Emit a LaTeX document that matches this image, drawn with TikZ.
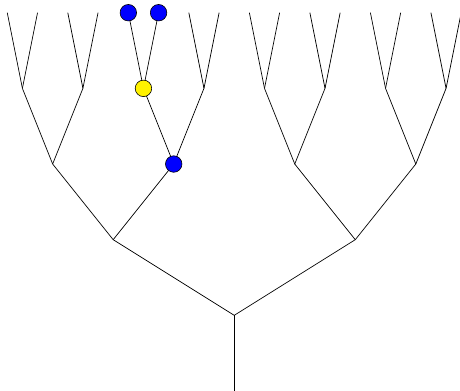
\documentclass[tikz,border=0pt]{standalone}
\usepackage{xcolor}
\usepackage{tikz}

\tikzset{
  dot/.style={circle, draw, line width=0.6pt, inner sep=0pt, minimum size=16.5pt},
}

\begin{document}
\begin{tikzpicture}[x=30.27pt, y=30.27pt, line width=0.7pt]
        \useasboundingbox (-7.74,0) rectangle (7.46,12.92);

        \coordinate (r) at (0,0);
        \coordinate (0-0) at (0,2.5);
        \draw (r) -- (0-0);

        \foreach \l in {1,...,4}{
            \pgfmathtruncatemacro{\n}{2^\l-1}
            \pgfmathtruncatemacro{\p}{\l-1}
            \foreach \k in {0,...,\n}{
                \pgfmathtruncatemacro{\m}{div(\k,2)}
                \coordinate (\l-\k) at ({-8+(\k+0.5)*16/2^\l}, {2.5*\l+2.5});
                \draw (\p-\m) -- (\l-\k);
            }
        }

        \node[dot, fill=blue] (leafa) at (4-4) {};
        \node[dot, fill=blue] (leafb) at (4-5) {};
        \node[dot, fill=yellow] (mid) at (3-2) {};
        \node[dot, fill=blue] (low) at (2-1) {};

    \end{tikzpicture}
\end{document}
